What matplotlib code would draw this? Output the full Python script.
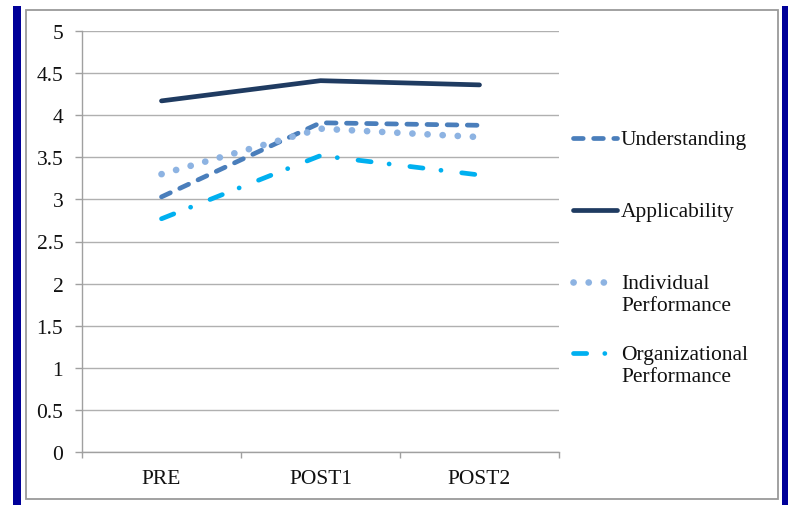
import matplotlib
matplotlib.use("Agg")
import matplotlib.pyplot as plt
from matplotlib.lines import Line2D
from matplotlib.patches import Rectangle

# Survey scores per measurement point
categories = ["PRE", "POST1", "POST2"]
understanding = [3.03, 3.91, 3.88]
applicability = [4.17, 4.41, 4.36]
individual = [3.30, 3.84, 3.74]
organizational = [2.77, 3.52, 3.29]
series_labels = ["Understanding", "Applicability",
                 "Individual\nPerformance", "Organizational\nPerformance"]
y_ticks = [0, 0.5, 1, 1.5, 2, 2.5, 3, 3.5, 4, 4.5, 5]

plt.rcParams["font.family"] = ["Liberation Serif", "DejaVu Serif"]
plt.rcParams["lines.scale_dashes"] = False

W, H = 788, 506
FS = 15.5
fig = plt.figure(figsize=(W / 100, H / 100), dpi=100)
fig.patch.set_facecolor("white")

# Outer decorations: blue side bars and grey frame
fig.add_artist(Rectangle((13 / W, 0), 8 / W, 499 / H, transform=fig.transFigure,
                         facecolor="#000099", edgecolor="none"))
fig.add_artist(Rectangle((782 / W, 0), 6 / W, 499 / H, transform=fig.transFigure,
                         facecolor="#000099", edgecolor="none"))
fig.add_artist(Rectangle((26 / W, 6 / H), 752 / W, 489 / H, transform=fig.transFigure,
                         facecolor="none", edgecolor="#9a9a9a", linewidth=1.3))

ax = fig.add_axes([82 / W, 53 / H, 477 / W, 421 / H])
x = list(range(len(categories)))

styles = [
    dict(color="#4A7EBB", linewidth=3.4, dashes=(7.0, 7.5), dash_capstyle="round"),
    dict(color="#1F3B61", linewidth=3.4, linestyle="-", solid_capstyle="round"),
    dict(color="#8DB3E2", linewidth=4.8, dashes=(0.1, 10.8), dash_capstyle="round"),
    dict(color="#00B0F0", linewidth=3.4, dashes=(9.5, 13.0, 0.1, 15.0),
         dash_capstyle="round"),
]
data = [understanding, applicability, individual, organizational]
for vals, st in zip(data, styles):
    ax.plot(x, vals, zorder=3, **st)

ax.set_xlim(-0.5, len(categories) - 0.5)
ax.set_ylim(0, 5)
ax.set_yticks(y_ticks)
ax.set_yticklabels([f"{v:g}" for v in y_ticks])
ax.set_xticks(x)
ax.set_xticklabels(categories)
ax.set_xticks([i - 0.5 for i in range(len(categories) + 1)], minor=True)

ax.grid(axis="y", color="#b0b0b0", linewidth=1.0, zorder=0)
ax.set_axisbelow(True)
for s in ["top", "right"]:
    ax.spines[s].set_visible(False)
for s in ["left", "bottom"]:
    ax.spines[s].set_color("#a0a0a0")
    ax.spines[s].set_linewidth(1.0)

ax.tick_params(axis="y", which="major", length=5, width=1.0, color="#a0a0a0",
               pad=8.5, labelsize=FS, labelcolor="#111111")
ax.tick_params(axis="x", which="major", length=0, pad=12, labelsize=FS,
               labelcolor="#111111")
ax.tick_params(axis="x", which="minor", length=4.5, width=1.0, color="#a0a0a0")

# Legend drawn at the right of the plot
legend_y = [139, 211, 283, 354]
for lab, st, yy in zip(series_labels, styles, legend_y):
    yf = 1 - yy / H
    fig.add_artist(Line2D([573 / W, 617 / W], [yf, yf], transform=fig.transFigure, **st))
    fig.text(621 / W, 1 - (yy - 8) / H, lab, ha="left", va="top",
             fontsize=FS, color="#111111", linespacing=1.2)

fig.savefig("out.png", dpi=100, facecolor="white")
